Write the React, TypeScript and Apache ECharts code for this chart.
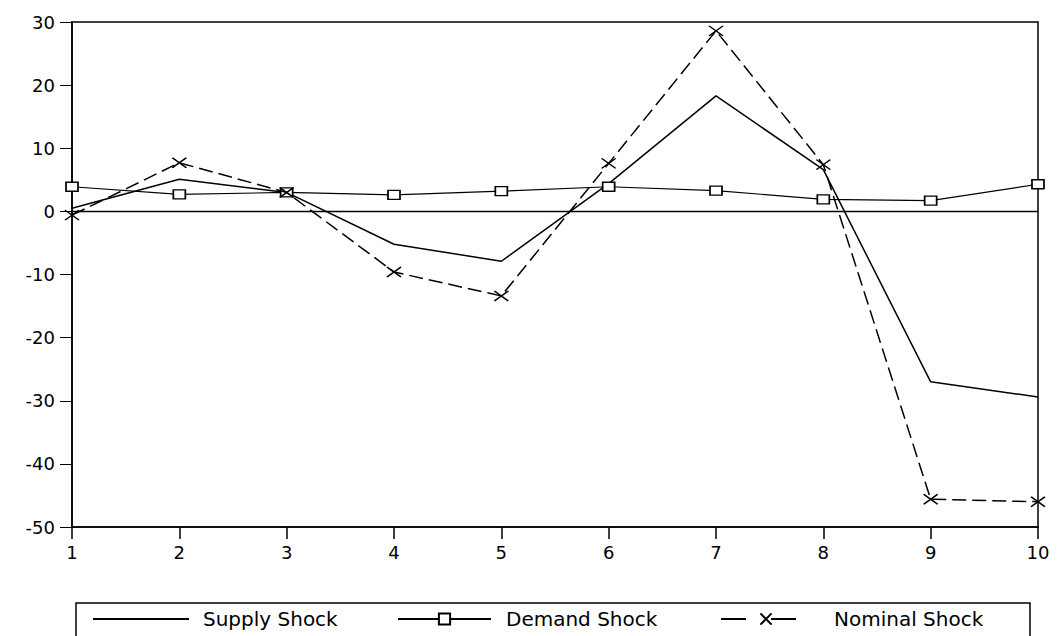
import React, { useEffect, useRef } from "react";
import * as echarts from "echarts";

const categories = ["1", "2", "3", "4", "5", "6", "7", "8", "9", "10"];
const supplyShock = [0.5, 5.1, 3.0, -5.2, -7.9, 4.4, 18.3, 6.6, -27.0, -29.4];
const demandShock = [3.9, 2.7, 3.0, 2.6, 3.2, 3.9, 3.3, 1.9, 1.7, 4.3];
const nominalShock = [-0.6, 7.7, 3.0, -9.6, -13.4, 7.6, 28.6, 7.4, -45.6, -46.0];
const yMin = -50;
const yMax = 30;
const yStep = 10;

const FONT = "DejaVu Sans";

export default function App() {
  const ref = useRef<HTMLDivElement>(null);
  useEffect(() => {
    if (!ref.current) return;
    const chart = echarts.init(ref.current, null, { renderer: "svg" });
    const legendText = { fontFamily: FONT, fontSize: 20, color: "#000" };
    const legendBase = { top: 609, padding: 0, itemHeight: 14, orient: "horizontal" };
    chart.setOption({
      animation: false,
      backgroundColor: "#fff",
      grid: {
        left: 72,
        right: 20,
        top: 22,
        bottom: 109,
        show: true,
        borderColor: "#000",
        borderWidth: 1.5,
      },
      xAxis: {
        type: "category",
        data: categories,
        boundaryGap: false,
        axisLine: { onZero: false, lineStyle: { color: "#000", width: 1.5 } },
        axisTick: { length: 12, alignWithLabel: true, lineStyle: { color: "#000", width: 1.5 } },
        axisLabel: { margin: 16, color: "#000", fontFamily: FONT, fontSize: 18 },
        splitLine: { show: false },
      },
      yAxis: {
        type: "value",
        min: yMin,
        max: yMax,
        interval: yStep,
        axisLine: { show: true, lineStyle: { color: "#000", width: 1.5 } },
        axisTick: { show: true, length: 12, lineStyle: { color: "#000", width: 1 } },
        axisLabel: { margin: 17, color: "#000", fontFamily: FONT, fontSize: 18 },
        splitLine: { show: false },
      },
      legend: [
        {
          ...legendBase,
          data: [{ name: "Supply Shock", itemStyle: { opacity: 0 } }],
          left: 92,
          itemWidth: 96,
          textStyle: { ...legendText, padding: [0, 0, 0, 9] },
        },
        {
          ...legendBase,
          data: ["Demand Shock"],
          left: 397,
          itemWidth: 93,
          textStyle: { ...legendText, padding: [0, 0, 0, 10] },
        },
        {
          ...legendBase,
          data: [{ name: "Nominal Shock", lineStyle: { type: [25, 25] } }],
          left: 720,
          itemWidth: 90,
          textStyle: { ...legendText, padding: [0, 0, 0, 18] },
        },
      ],
      graphic: [
        {
          type: "rect",
          shape: { x: 76, y: 603, width: 954, height: 60 },
          style: { fill: "none", stroke: "#000", lineWidth: 1.5 },
          silent: true,
        },
      ],
      series: [
        {
          name: "Supply Shock",
          type: "line",
          data: supplyShock,
          symbol: "none",
          lineStyle: { color: "#000", width: 1.5, type: "solid" },
          itemStyle: { color: "#000" },
          markLine: {
            silent: true,
            symbol: "none",
            label: { show: false },
            lineStyle: { color: "#000", width: 1.3, type: "solid" },
            data: [{ yAxis: 0 }],
          },
          z: 3,
        },
        {
          name: "Demand Shock",
          type: "line",
          data: demandShock,
          symbol: "rect",
          symbolSize: [12, 9],
          lineStyle: { color: "#000", width: 1.2, type: "solid" },
          itemStyle: { color: "#fff", borderColor: "#000", borderWidth: 1.5 },
          z: 4,
        },
        {
          name: "Nominal Shock",
          type: "line",
          data: nominalShock,
          symbol: "path://M0,0L10,10M10,0L0,10",
          symbolSize: [14, 10],
          lineStyle: { color: "#000", width: 1.5, type: [14, 6] },
          itemStyle: { color: "#000", borderColor: "#000", borderWidth: 1.5 },
          z: 5,
        },
      ],
    });
    return () => chart.dispose();
  }, []);
  return (
    <div
      ref={ref}
      style={{ position: "fixed", left: 0, top: 0, width: 1058, height: 636, background: "#fff" }}
    />
  );
}
